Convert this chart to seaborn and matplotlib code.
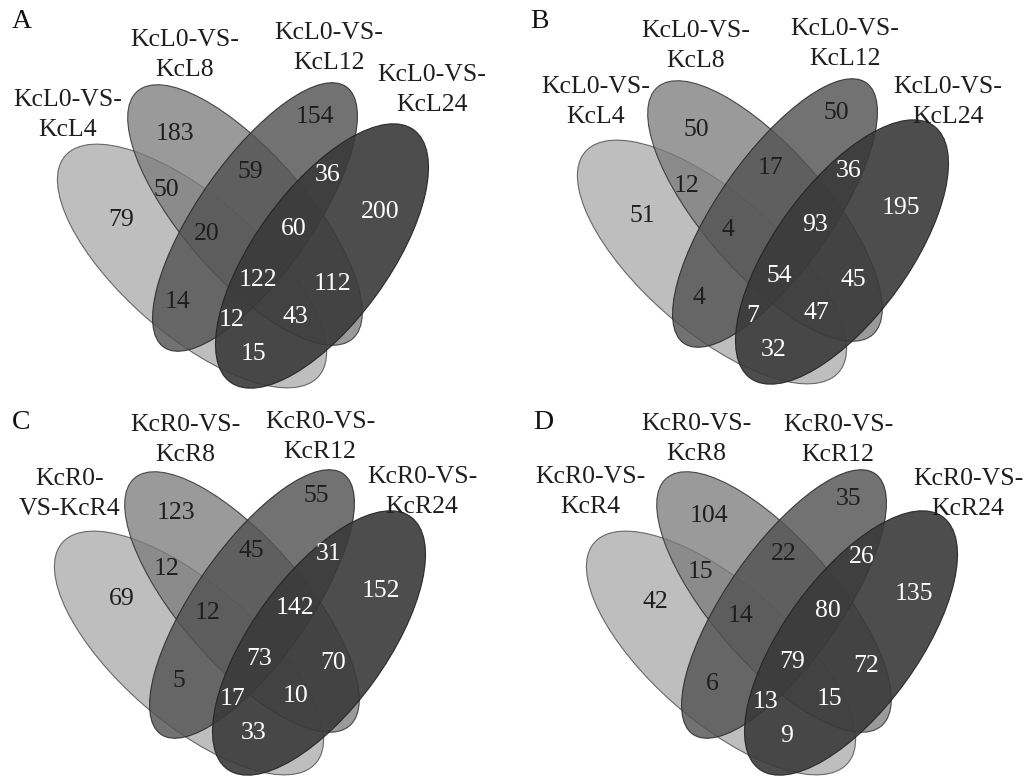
import matplotlib
matplotlib.use("Agg")
import matplotlib.pyplot as plt
from matplotlib.patches import Ellipse
import seaborn as sns

# ==================================
# DATA
# ==================================
regions = ['1', '2', '3', '4', '12', '23', '34', '123', '234', '1234',
           '24', '13', '134', '124', '14']

counts_A = [79, 183, 154, 200, 50, 59, 36, 20, 60, 122, 112, 14, 12, 43, 15]
counts_B = [51, 50, 50, 195, 12, 17, 36, 4, 93, 54, 45, 4, 7, 47, 32]
counts_C = [69, 123, 55, 152, 12, 45, 31, 12, 142, 73, 70, 5, 17, 10, 33]
counts_D = [42, 104, 35, 135, 15, 22, 26, 14, 80, 79, 72, 6, 13, 15, 9]

labels_A = ["KcL0-VS-\nKcL4", "KcL0-VS-\nKcL8", "KcL0-VS-\nKcL12", "KcL0-VS-\nKcL24"]
labels_B = ["KcL0-VS-\nKcL4", "KcL0-VS-\nKcL8", "KcL0-VS-\nKcL12", "KcL0-VS-\nKcL24"]
labels_C = ["KcR0-\nVS-KcR4", "KcR0-VS-\nKcR8", "KcR0-VS-\nKcR12", "KcR0-VS-\nKcR24"]
labels_D = ["KcR0-VS-\nKcR4", "KcR0-VS-\nKcR8", "KcR0-VS-\nKcR12", "KcR0-VS-\nKcR24"]

letters = ['A', 'B', 'C', 'D']

# ==================================
# LAYOUT (panel pixel coords, y down)
# ==================================
# cx, cy, semi-major, semi-minor, angle, fill, alpha
ellipses = [
    (192, 266, 168, 69, 41, '#969696', 0.62),
    (245, 215, 164, 62, 49, '#7c7c7c', 0.77),
    (255, 217, 159, 57, -55, '#535353', 0.82),
    (322, 256, 156, 67, -54, '#3a3a3a', 0.90),
]

num_pos = {
    '1': (121, 218), '2': (175, 132), '3': (315, 115), '4': (380, 210),
    '12': (166, 188), '23': (250, 170), '34': (328, 173), '123': (207, 232),
    '234': (294, 227), '1234': (258, 278), '24': (332, 282), '13': (178, 300),
    '134': (232, 318), '124': (295, 315), '14': (253, 352),
}

panels = [
    dict(counts=counts_A, labels=labels_A, ell=(0, 0), num=(0, 0),
         lab=[(68, 115), (185, 55), (329, 48), (432, 90)], let=(22, 22)),
    dict(counts=counts_B, labels=labels_B, ell=(6, -4), num=(7, -4),
         lab=[(82, 102), (182, 46), (331, 44), (434, 102)], let=(25, 21)),
    dict(counts=counts_C, labels=labels_C, ell=(-3, -5), num=(1, -13),
         lab=[(70, 102), (185, 48), (320, 45), (422, 100)], let=(21, 30)),
    dict(counts=counts_D, labels=labels_D, ell=(15, -5), num=(20, -10),
         lab=[(76, 100), (182, 47), (324, 48), (454, 102)], let=(29, 30)),
]

# ==================================
# PLOT
# ==================================
sns.set_style("white")
plt.rcParams['font.family'] = ['Liberation Serif', 'DejaVu Serif']

fig = plt.figure(figsize=(10.28, 7.84), dpi=100)
boxes = [[0, 0.5, 0.5, 0.5], [0.5, 0.5, 0.5, 0.5],
         [0, 0, 0.5, 0.5], [0.5, 0, 0.5, 0.5]]

for box, p, letter in zip(boxes, panels, letters):
    ax = fig.add_axes(box)
    ax.set_xlim(0, 514)
    ax.set_ylim(392, 0)
    ax.axis('off')

    ex, ey = p['ell']
    for cx, cy, a, b, ang, col, al in ellipses:
        ax.add_patch(Ellipse((cx + ex, cy + ey), 2 * a, 2 * b, angle=ang,
                             facecolor=col, alpha=al, edgecolor='#222222',
                             linewidth=0.8))

    nx, ny = p['num']
    for reg, val in zip(regions, p['counts']):
        x, y = num_pos[reg]
        color = 'white' if '4' in reg else '#1e1e1e'
        ax.text(x + nx, y + ny + 2, str(val), ha='center', va='center',
                fontsize=18.5, color=color)

    for (lx, ly), lab in zip(p['lab'], p['labels']):
        ax.text(lx, ly, lab, ha='center', va='center', fontsize=18.5,
                color='#1e1e1e', linespacing=1.45)

    ax.text(p['let'][0], p['let'][1], letter, ha='center', va='center',
            fontsize=20, color='#111111')

fig.savefig("out.png", dpi=100)
